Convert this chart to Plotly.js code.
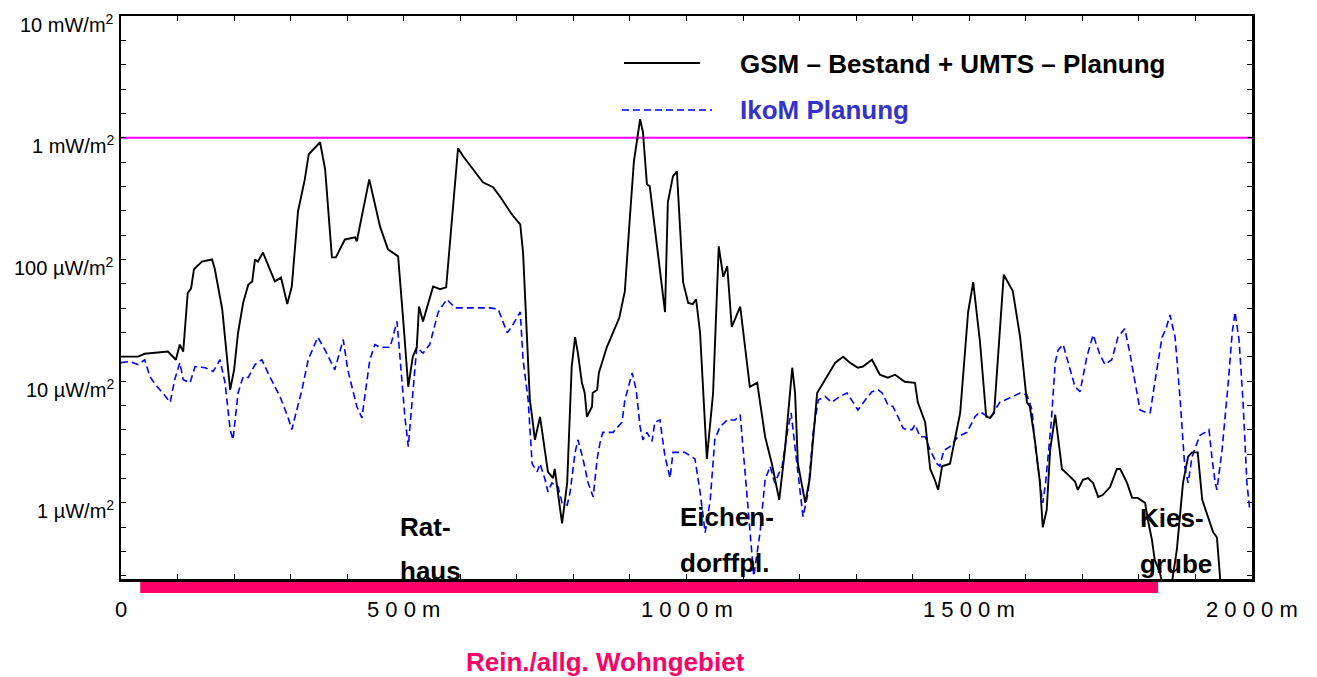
<!DOCTYPE html>
<html>
<head>
<meta charset="utf-8">
<script src="https://cdn.plot.ly/plotly-3.0.1.min.js"></script>
<style>html,body{margin:0;padding:0;background:#fff;}#chart{width:1317px;height:677px;}</style>
</head>
<body>
<div id="chart"></div>
<script>
// ---- data (distance in m, power density in µW/m²) ----
const gsmDistance = [0,30,42,60,83,97,104,110,118,124,129,143,161,166,179,193,200,207,216,225,232,237,242,251,272,283,294,302,313,325,332,352,361,373,380,387,396,414,417,439,458,472,485,490,499,508,516,523,527,534,552,564,575,596,605,622,640,658,670,691,706,711,723,727,732,741,750,755,764,767,776,780,789,797,803,808,815,820,824,833,834,842,845,859,881,891,900,907,912,918,923,930,935,944,953,962,967,976,983,988,994,1003,1011,1017,1024,1036,1047,1057,1065,1072,1080,1095,1112,1125,1139,1151,1164,1174,1187,1192,1197,1210,1218,1231,1245,1263,1277,1289,1303,1312,1328,1342,1356,1369,1386,1404,1409,1422,1431,1439,1445,1452,1466,1484,1498,1507,1519,1530,1537,1544,1561,1577,1590,1602,1607,1616,1625,1630,1637,1643,1652,1664,1675,1687,1692,1701,1710,1719,1728,1736,1749,1761,1767,1779,1788,1798,1811,1816,1823,1828,1837,1843,1857,1867,1878,1887,1894,1904,1912,1922,1931,1938,1945];
const gsmValues = [15.9,15.9,16.8,17,17.5,15,20,17.5,53,58,83,96,100,83,39,8.5,12.4,25,44,62,66,100,96,114,66,71,43,60,248,455,731,918,550,104,104,121,146,152,141,455,187,121,110,106,32,9.0,15.9,19,41,31,60,57,59,820,704,550,430,392,330,235,194,114,7.0,5.1,3.3,5.1,2.6,1.8,1.6,1.9,0.93,0.68,1.46,13.2,23,17,9.7,8.0,5.1,6.2,8.0,8.5,11.7,19,33,55,226,641,918,1420,1110,414,399,177,88,37,295,482,530,187,65,44,43,47,25,2.3,8.0,128,72,88,28,41,9.0,9.7,3.5,2.1,1.06,2.7,12.9,8.0,2.1,1.0,1.6,8.0,10.3,14.2,15.9,14.2,12.9,13.2,15,11.3,10.7,11.3,9.9,9.7,6.7,4.6,1.9,1.55,1.28,2.0,2.1,5.5,37,65,21,5.1,5.0,5.5,75,55,23,6.7,6.2,3.3,1.46,0.63,0.88,2.7,5.3,1.9,1.7,1.5,1.28,1.55,1.6,1.46,1.12,1.16,1.35,1.9,1.9,1.46,1.10,1.10,1.0,0.72,0.50,0.34,0.27,0.2,0.2,0.41,1.46,2.4,2.6,2.6,1.06,0.77,0.58,0.52,0.2];

const ikomDistance = [0,16,30,42,51,64,74,87,95,104,110,122,131,149,163,175,184,193,198,207,216,225,237,249,263,281,295,302,320,331,348,361,378,393,401,417,426,440,449,458,476,488,493,502,508,515,523,534,546,561,576,591,608,653,667,683,691,706,711,720,727,736,741,750,755,762,773,780,789,794,803,808,817,826,835,842,847,852,870,886,891,904,911,918,923,930,939,944,953,962,971,976,985,997,1015,1024,1033,1042,1050,1059,1072,1086,1095,1103,1112,1119,1130,1139,1148,1156,1169,1179,1185,1192,1201,1206,1215,1224,1233,1245,1257,1271,1284,1298,1303,1316,1328,1339,1346,1356,1365,1374,1383,1390,1399,1404,1413,1422,1431,1443,1448,1455,1466,1480,1496,1510,1519,1537,1554,1572,1590,1602,1611,1616,1625,1630,1635,1645,1652,1657,1666,1675,1687,1696,1708,1719,1731,1740,1752,1763,1775,1784,1793,1802,1814,1820,1828,1841,1848,1855,1864,1873,1881,1887,1894,1899,1908,1917,1924,1929,1935,1938,1947,1958,1965,1970,1977,1984,1991,1996];
const ikomValues = [14.2,14.5,13.7,15,10.9,9.0,8.0,6.7,10.3,14.2,10.3,9.7,13.2,12.9,12.0,15,9.7,4.0,3.3,8.0,10.9,10.7,13.7,15,10.9,7.5,5.1,4.0,8.5,15,23,18,12.4,22,12.4,6.2,5.0,15,20,19,19,31,16.5,5.1,2.9,7.0,19,17,20,37,47,40,40,40,39,25,28,37,15,7.0,2.1,1.8,2.1,1.55,1.23,1.46,1.35,1.0,0.96,1.21,2.6,3.3,2.3,1.46,1.12,2.3,3.1,3.8,3.8,4.6,7.0,11.7,8.5,4.2,3.3,3.8,3.2,4.6,4.8,2.4,1.6,2.6,2.6,2.6,2.3,1.23,0.57,1.06,3.3,4.2,4.8,4.8,5.3,2.0,0.57,0.25,0.57,1.55,2.0,1.46,2.0,4.0,5.5,2.9,1.21,0.77,1.21,3.8,7.0,7.5,6.7,7.5,8.0,6.2,5.8,7.0,8.2,8.5,8.0,6.4,6.2,5.1,4.1,4.0,4.0,4.4,3.5,3.5,2.7,2.1,2.0,2.7,2.9,3.5,3.8,5.1,5.6,5.0,6.7,7.3,8.0,7.7,5.8,3.1,1.46,1.0,1.46,4.6,14.2,18,20,14.2,9.0,8.2,15.9,24,16.5,13.7,15,23,27,17,9.7,5.8,5.5,5.5,9.7,23,27,35,23,7.0,2.0,1.46,2.4,2.8,3.6,3.8,4.0,2.4,1.46,1.28,2.7,9.7,25,37,22,7.0,1.46,0.88];

const limitValue = 1000;          // 1 mW/m² limit line
const limitDistance = [0, 2000];

const zoneStart = 34, zoneEnd = 1834;   // Rein./allg. Wohngebiet
const zoneLabel = "Rein./allg. Wohngebiet";

const seriesNames = ["GSM – Bestand + UMTS – Planung", "IkoM Planung"];

const xTickVals = [0, 500, 1000, 1500, 2000];
const xTickLabels = ["0", "5 0 0 m", "1 0 0 0 m", "1 5 0 0 m", "2 0 0 0 m"];
const yTickVals = [1, 10, 100, 1000, 10000];
const yTickLabels = ["1 µW/m<sup>2</sup>", "10 µW/m<sup>2</sup>", "100 µW/m<sup>2</sup>", "1 mW/m<sup>2</sup>", "10 mW/m<sup>2</sup>"];

const places = [
  {d: 490, top: "Rat-", bottom: "haus", yTop: 527, yBottom: 571},
  {d: 985, top: "Eichen-", bottom: "dorffpl.", yTop: 517, yBottom: 563},
  {d: 1798, top: "Kies-", bottom: "grube", yTop: 518, yBottom: 564}
];

// ---- build ----
const FONT = "Liberation Sans, Arial, Helvetica, sans-serif";

const yAllTicks = [];
for (let k = -3; k <= 20; k++) yAllTicks.push(Math.pow(10, k * 0.2));
const xAllTicks = [];
for (let d = 0; d <= 2000; d += 100) xAllTicks.push(d);

const traces = [
  {x: limitDistance, y: [limitValue, limitValue], mode: "lines", line: {color: "#ff00ff", width: 2}, showlegend: false, hoverinfo: "skip"},
  {x: ikomDistance, y: ikomValues, name: seriesNames[1], mode: "lines", line: {color: "#0000ff", width: 1.6, dash: "7px,4px"}, showlegend: false},
  {x: gsmDistance, y: gsmValues, name: seriesNames[0], mode: "lines", line: {color: "#000000", width: 1.9}, showlegend: false}
];

const plotTop = 16, plotBottom = 579, plotH = plotBottom - plotTop;
const py = p => (plotBottom - p) / plotH;   // pixel row -> paper y
const pxX = p => (p - 121) / 1131;          // pixel column -> paper x

const annotations = [];
// y tick labels (slightly below their ticks, as in the original)
yTickVals.forEach((v, i) => annotations.push({
  x: 0, y: Math.log10(v), xref: "paper", yref: "y", text: yTickLabels[i], showarrow: false,
  xanchor: "right", yanchor: "middle", xshift: -5, yshift: -7,
  font: {family: FONT, size: 20, color: "#000"}
}));
// x tick labels
xTickVals.forEach((v, i) => annotations.push({
  x: v, y: py(609), xref: "x", yref: "paper", text: xTickLabels[i], showarrow: false,
  xanchor: "center", yanchor: "middle", font: {family: FONT, size: 22, color: "#000"}
}));
// place names
places.forEach(p => {
  annotations.push({x: p.d, y: py(p.yTop), xref: "x", yref: "paper", text: "<b>" + p.top + "</b>", showarrow: false,
    xanchor: "left", yanchor: "middle", font: {family: FONT, size: 26, color: "#000"}});
  annotations.push({x: p.d, y: py(p.yBottom), xref: "x", yref: "paper", text: "<b>" + p.bottom + "</b>", showarrow: false,
    xanchor: "left", yanchor: "middle", font: {family: FONT, size: 26, color: "#000"}});
});
// zone label
annotations.push({x: pxX(605), y: py(662), xref: "paper", yref: "paper", text: "<b>" + zoneLabel + "</b>",
  showarrow: false, xanchor: "center", yanchor: "middle", font: {family: FONT, size: 26, color: "#ff0066"}});
// legend texts
annotations.push({x: pxX(738), y: py(64), xref: "paper", yref: "paper", text: "<b>" + seriesNames[0] + "</b>",
  showarrow: false, xanchor: "left", yanchor: "middle", font: {family: FONT, size: 26, color: "#000"}});
annotations.push({x: pxX(738), y: py(110), xref: "paper", yref: "paper", text: "<b>" + seriesNames[1] + "</b>",
  showarrow: false, xanchor: "left", yanchor: "middle", font: {family: FONT, size: 26, color: "#3333cc"}});

const shapes = [
  {type: "rect", xref: "x", yref: "paper", x0: zoneStart, x1: zoneEnd, y0: py(593), y1: py(582),
   fillcolor: "#ff0066", line: {width: 0}},
  {type: "line", xref: "paper", yref: "paper", x0: pxX(624), x1: pxX(700), y0: py(63), y1: py(63),
   line: {color: "#000", width: 1.9}},
  {type: "line", xref: "paper", yref: "paper", x0: pxX(622), x1: pxX(712), y0: py(110), y1: py(110),
   line: {color: "#0000ff", width: 1.6, dash: "7px,4px"}}
];

const layout = {
  width: 1317, height: 677,
  margin: {l: 121, r: 65, t: 16, b: 98, pad: 0},
  paper_bgcolor: "#fff", plot_bgcolor: "#fff",
  font: {family: FONT, color: "#000"},
  showlegend: false,
  xaxis: {
    range: [0, 2000], showgrid: false, zeroline: false,
    showline: true, linecolor: "#000", linewidth: 2.5, mirror: "ticks",
    ticks: "inside", ticklen: 5, tickwidth: 1, tickcolor: "#000",
    tickmode: "array", tickvals: xAllTicks, showticklabels: false
  },
  yaxis: {
    type: "log", range: [-0.625, 4], showgrid: false, zeroline: false,
    showline: true, linecolor: "#000", linewidth: 2.5, mirror: "ticks",
    ticks: "inside", ticklen: 5, tickwidth: 1, tickcolor: "#000",
    tickmode: "array", tickvals: yAllTicks, showticklabels: false
  },
  annotations: annotations,
  shapes: shapes
};

Plotly.newPlot("chart", traces, layout, {displayModeBar: false, staticPlot: true});
</script>
</body>
</html>
